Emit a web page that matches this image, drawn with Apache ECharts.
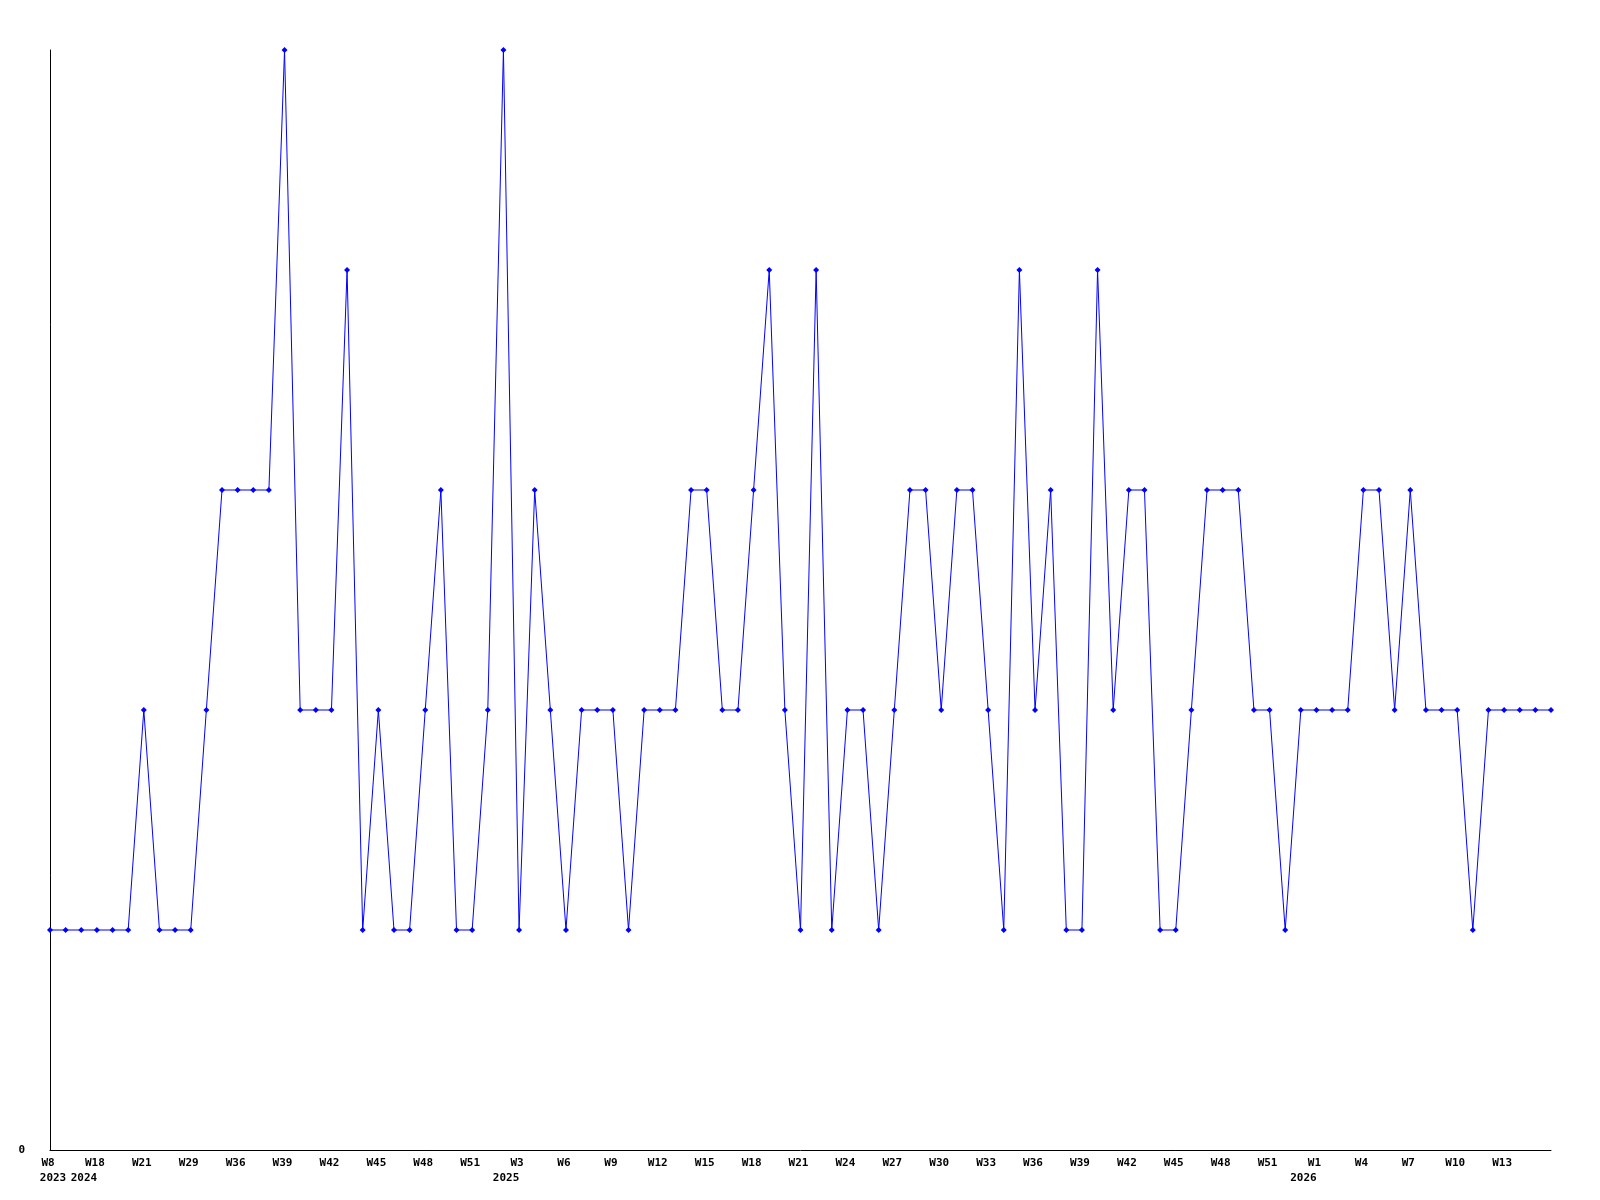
<!DOCTYPE html>
<html>
<head>
<meta charset="utf-8">
<script src="https://cdn.jsdelivr.net/npm/echarts@6/dist/echarts.min.js"></script>
<style>
  html, body { margin: 0; padding: 0; background: #fff; }
  #chart { width: 1600px; height: 1200px; }
</style>
</head>
<body>
<div id="chart"></div>
<script>
// weeks, "year-week"
const categories = [
  "2023-W8", "2023-W15", "2023-W37",
  "2024-W18", "2024-W19", "2024-W20", "2024-W21", "2024-W23", "2024-W26", "2024-W29", "2024-W31",
  "2024-W34", "2024-W36", "2024-W37", "2024-W38", "2024-W39", "2024-W40", "2024-W41", "2024-W42",
  "2024-W43", "2024-W44", "2024-W45", "2024-W46", "2024-W47", "2024-W48", "2024-W49", "2024-W50",
  "2024-W51", "2024-W52",
  "2025-W2", "2025-W3", "2025-W4", "2025-W5", "2025-W6", "2025-W7", "2025-W8", "2025-W9",
  "2025-W10", "2025-W11", "2025-W12", "2025-W13", "2025-W14", "2025-W15", "2025-W16", "2025-W17",
  "2025-W18", "2025-W19", "2025-W20", "2025-W21", "2025-W22", "2025-W23", "2025-W24", "2025-W25",
  "2025-W26", "2025-W27", "2025-W28", "2025-W29", "2025-W30", "2025-W31", "2025-W32", "2025-W33",
  "2025-W34", "2025-W35", "2025-W36", "2025-W37", "2025-W38", "2025-W39", "2025-W40", "2025-W41",
  "2025-W42", "2025-W43", "2025-W44", "2025-W45", "2025-W46", "2025-W47", "2025-W48", "2025-W49",
  "2025-W50", "2025-W51", "2025-W52", "2025-W53",
  "2026-W1", "2026-W2", "2026-W3", "2026-W4", "2026-W5", "2026-W6", "2026-W7", "2026-W8",
  "2026-W9", "2026-W10", "2026-W11", "2026-W12", "2026-W13", "2026-W14", "2026-W15", "2026-W16"
];

const values = [
  1, 1, 1, 1, 1, 1, 2, 1, 1, 1,
  2, 3, 3, 3, 3, 5, 2, 2, 2, 4,
  1, 2, 1, 1, 2, 3, 1, 1, 2, 5,
  1, 3, 2, 1, 2, 2, 2, 1, 2, 2,
  2, 3, 3, 2, 2, 3, 4, 2, 1, 4,
  1, 2, 2, 1, 2, 3, 3, 2, 3, 3,
  2, 1, 4, 2, 3, 1, 1, 4, 2, 3,
  3, 1, 1, 2, 3, 3, 3, 2, 2, 1,
  2, 2, 2, 2, 3, 3, 2, 3, 2, 2,
  2, 1, 2, 2, 2, 2, 2
];

const yMin = 0;
const yMax = 5;

const font = "DejaVu Sans Mono";

let chart = echarts.init(document.getElementById("chart"));

const options = {
  animation: false,
  backgroundColor: "#fff",
  grid: {
    left: 50,
    right: 49,
    top: 50,
    bottom: 50,
    containLabel: false,
    outerBoundsMode: "none",
  },
  xAxis: {
    type: "category",
    boundaryGap: false,
    data: categories,
    axisTick: { show: false },
    axisLine: { lineStyle: { color: "#000", width: 1 } },
    splitLine: { show: false },
    axisLabel: {
      interval: 2,
      showMaxLabel: false,
      margin: 6,
      color: "#000",
      fontFamily: font,
      fontWeight: "bold",
      fontSize: 11,
      lineHeight: 15,
      formatter: (value, index) => {
        let parts = value.split("-");
        let prev = index >= 3 ? categories[index - 3].split("-")[0] : null;
        if (parts[0] !== prev) {
          // year under the first labelled week of that year
          return "{w|" + parts[1] + "}\n{" + (index === 0 ? "y0" : "y") + "|" + parts[0] + "}";
        }
        return "{w|" + parts[1] + "}";
      },
      rich: {
        w: { fontFamily: font, fontWeight: "bold", fontSize: 11, lineHeight: 15, color: "#000", padding: [0, 4, 0, 0] },
        y: { fontFamily: font, fontWeight: "bold", fontSize: 11, lineHeight: 15, color: "#000", padding: [0, 26, 0, 0] },
        y0: { fontFamily: font, fontWeight: "bold", fontSize: 11, lineHeight: 15, color: "#000", padding: [0, 0, 0, 6] },
      },
    },
  },
  yAxis: {
    type: "value",
    min: yMin,
    max: yMax,
    interval: 5,
    axisLine: { show: true, lineStyle: { color: "#000", width: 1 } },
    axisTick: { show: false },
    splitLine: { show: false },
    axisLabel: {
      showMaxLabel: false,
      margin: 25,
      color: "#000",
      fontFamily: font,
      fontWeight: "bold",
      fontSize: 11,
    },
  },
  series: [
    {
      type: "line",
      data: values,
      symbol: "diamond",
      symbolSize: 6,
      showAllSymbol: true,
      lineStyle: { color: "#0000ff", width: 1 },
      itemStyle: { color: "#0000ff" },
    },
  ],
};

chart.setOption(options);
</script>
</body>
</html>
